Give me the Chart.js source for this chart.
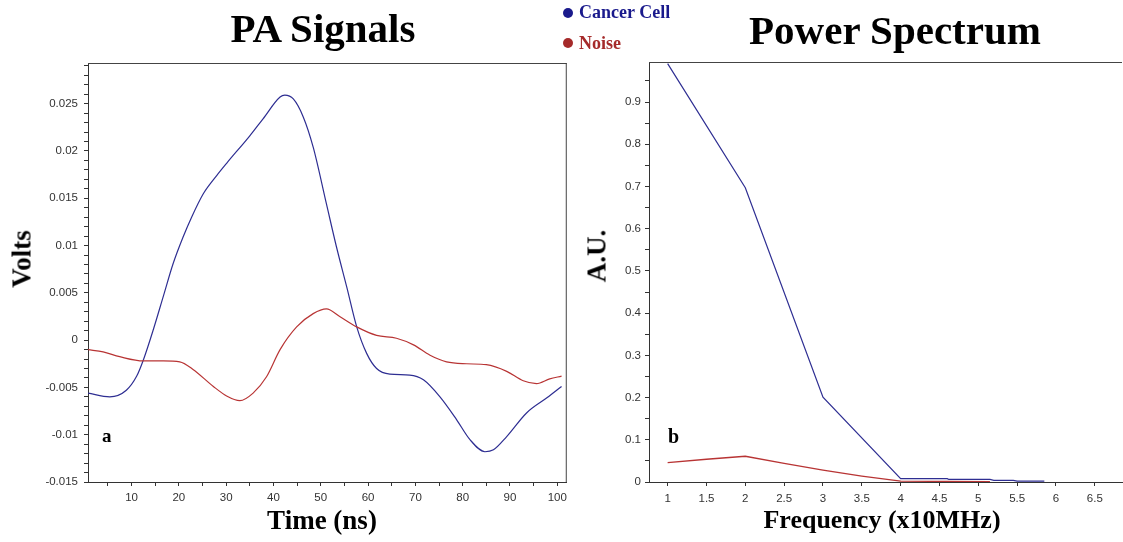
<!DOCTYPE html>
<html>
<head>
<meta charset="utf-8">
<script src="https://cdn.jsdelivr.net/npm/chart.js@4.4.0/dist/chart.umd.min.js"></script>
<style>
    body { margin: 0; width: 1123px; height: 542px; background: #fff; position: relative; overflow: hidden; }
    .wrap { position: absolute; top: 0; height: 542px; }
    .txt { position: absolute; font-family: 'Liberation Serif', 'Times New Roman', serif; font-weight: bold; line-height: 1; white-space: nowrap; color: #000; }
    .dot { position: absolute; width: 10px; height: 10px; border-radius: 50%; }
</style>
</head>
<body>
<div class="wrap" style="left:0;width:572px"><canvas id="paChart"></canvas></div>
<div class="wrap" style="left:575px;width:548px"><canvas id="specChart"></canvas></div>

<div class="txt" style="left:323px;top:8px;font-size:41px;transform:translateX(-50%)">PA Signals</div>
<div class="txt" style="left:895px;top:10px;font-size:41px;transform:translateX(-50%)">Power Spectrum</div>

<div class="dot" style="left:563px;top:8px;background:#1a1a8c"></div>
<div class="txt" style="left:579px;top:3px;font-size:18px;color:#1a1a8c">Cancer Cell</div>
<div class="dot" style="left:563px;top:38px;background:#a52a2a"></div>
<div class="txt" style="left:579px;top:34px;font-size:18px;color:#a52a2a">Noise</div>

<div class="txt" style="left:22px;top:259px;font-size:27px;transform:translate(-50%,-50%) rotate(-90deg)">Volts</div>
<div class="txt" style="left:597px;top:256px;font-size:27px;transform:translate(-50%,-50%) rotate(-90deg)">A.U.</div>
<div class="txt" style="left:322px;top:507px;font-size:27px;transform:translateX(-50%)">Time (ns)</div>
<div class="txt" style="left:882px;top:507px;font-size:26px;transform:translateX(-50%)">Frequency (x10MHz)</div>

<div class="txt" style="left:102px;top:426px;font-size:19px">a</div>
<div class="txt" style="left:668px;top:426px;font-size:20px">b</div>

<script>
'use strict';

// --- PA signals (panel a) ---
const cancerTime = [0.8, 5.4, 8.9, 11.1, 12.5, 14.6, 16.7, 18.8, 20.9, 22.7, 25.2, 28.0, 30.1, 35.0, 37.8,
    41.4, 42.4, 44.2, 46.3, 48.4, 51.2, 53.3, 55.5, 57.6, 59.7, 61.8, 64.6, 68.8, 71.7, 75.2,
    78.7, 81.5, 84.7, 86.5, 89.3, 93.5, 97.8, 100.9];
const cancerVolts = [-0.0056, -0.0060, -0.0053, -0.0038, -0.0021, 0.0011, 0.0046, 0.0081, 0.0109, 0.0130,
    0.0155, 0.0174, 0.0187, 0.0216, 0.0234, 0.0257, 0.0259, 0.0255, 0.0236, 0.0204,
    0.0144, 0.0099, 0.0056, 0.0014, -0.0014, -0.0030, -0.0036, -0.0037, -0.0042, -0.0060,
    -0.0084, -0.0105, -0.0118, -0.0116, -0.0102, -0.0077, -0.0061, -0.0049];

const noiseTime = [0.8, 4.0, 7.5, 12.5, 16.7, 20.2, 23.0, 27.3, 30.1, 32.9, 35.7, 38.5, 41.4, 44.9, 48.4,
    51.2, 54.0, 57.6, 61.8, 66.0, 69.6, 73.1, 76.6, 80.8, 85.0, 89.3, 92.8, 95.6, 98.4, 100.9];
const noiseVolts = [-0.0010, -0.00125, -0.00175, -0.0022, -0.0022, -0.0023, -0.0031, -0.0049, -0.0059, -0.0064,
    -0.0056, -0.0039, -0.0010, 0.0014, 0.0028, 0.0033, 0.0025, 0.0014, 0.0005, 0.0002,
    -0.0005, -0.0016, -0.0023, -0.0025, -0.0026, -0.0033, -0.0043, -0.0046, -0.0041, -0.0038];

const voltMajorTicks = [-0.015, -0.01, -0.005, 0, 0.005, 0.01, 0.015, 0.02, 0.025];
const timeMajorTicks = [10, 20, 30, 40, 50, 60, 70, 80, 90, 100];

// --- Power spectrum (panel b) ---
const cancerFreq = [1, 2, 3, 4, 4.6, 4.62, 5.15, 5.2, 5.45, 5.5, 5.85];
const cancerPower = [0.991, 0.697, 0.201, 0.008, 0.008, 0.006, 0.006, 0.004, 0.004, 0.002, 0.002];

const noiseFreq = [1, 1.5, 2, 2.5, 3, 3.5, 4, 5.15];
const noisePower = [0.046, 0.054, 0.061, 0.044, 0.028, 0.014, 0.002, 0.001];

const auMajorTicks = [0, 0.1, 0.2, 0.3, 0.4, 0.5, 0.6, 0.7, 0.8, 0.9];
const freqTicks = [1, 1.5, 2, 2.5, 3, 3.5, 4, 4.5, 5, 5.5, 6, 6.5];

const BLUE = '#2e2e92';
const RED = '#b83434';
const TICK_FONT = { family: "'Liberation Sans', Arial, sans-serif", size: 11.5 };

const toPoints = (xs, ys) => xs.map((x, i) => ({ x: x, y: ys[i] }));
const isMajor = (v, majors) => majors.some((m) => Math.abs(m - v) < 1e-9);

// top / right border of the plot box
const frame = {
    id: 'frame',
    afterDraw(chart, args, opts) {
        const { ctx, chartArea: a } = chart;
        ctx.save();
        ctx.strokeStyle = '#444';
        ctx.lineWidth = 1;
        ctx.beginPath();
        ctx.moveTo(a.left, a.top + 0.5);
        ctx.lineTo(a.right, a.top + 0.5);
        if (opts.right) {
            ctx.moveTo(a.right - 0.5, a.top);
            ctx.lineTo(a.right - 0.5, a.bottom);
        }
        ctx.stroke();
        ctx.restore();
    },
};

function axis(extra) {
    return Object.assign({
        type: 'linear',
        grid: { drawOnChartArea: false, drawTicks: true, tickLength: 4, tickColor: '#333' },
        border: { display: true, color: '#333', width: 1 },
    }, extra);
}

function lineSet(label, points, color, width, tension) {
    return {
        label: label,
        data: points,
        borderColor: color,
        borderWidth: width,
        pointRadius: 0,
        fill: false,
        tension: tension,
        cubicInterpolationMode: tension ? 'monotone' : 'default',
    };
}

const common = {
    responsive: true,
    maintainAspectRatio: false,
    animation: false,
    events: [],
    plugins: { legend: { display: false }, tooltip: { enabled: false } },
};

new Chart(document.getElementById('paChart').getContext('2d'), {
    type: 'line',
    data: {
        datasets: [
            lineSet('Noise', toPoints(noiseTime, noiseVolts), RED, 1.2, 0.4),
            lineSet('Cancer Cell', toPoints(cancerTime, cancerVolts), BLUE, 1.2, 0.4),
        ],
    },
    options: Object.assign({}, common, {
        layout: { padding: { top: 63, right: 5, bottom: 0, left: 0 } },
        plugins: Object.assign({}, common.plugins, { frame: { right: true } }),
        scales: {
            x: axis({
                min: 0.8, max: 102,
                afterFit: (s) => { s.height = 60; },
                ticks: {
                    stepSize: 5, includeBounds: false, autoSkip: false, maxRotation: 0,
                    padding: 5, color: '#333', font: TICK_FONT,
                    callback: (v) => (isMajor(v, timeMajorTicks) ? String(v) : ''),
                },
            }),
            y: axis({
                min: -0.015, max: 0.0293,
                afterFit: (s) => { s.width = 88; },
                ticks: {
                    stepSize: 0.001, includeBounds: false, autoSkip: false,
                    padding: 6, color: '#333', font: TICK_FONT,
                    callback: (v) => (isMajor(v, voltMajorTicks) ? String(Math.round(v * 1000) / 1000) : ''),
                },
            }),
        },
    }),
    plugins: [frame],
});

new Chart(document.getElementById('specChart').getContext('2d'), {
    type: 'line',
    data: {
        datasets: [
            lineSet('Noise', toPoints(noiseFreq, noisePower), RED, 1.4, 0),
            lineSet('Cancer Cell', toPoints(cancerFreq, cancerPower), BLUE, 1.2, 0),
        ],
    },
    options: Object.assign({}, common, {
        layout: { padding: { top: 62, right: 1, bottom: 0, left: 0 } },
        plugins: Object.assign({}, common.plugins, { frame: { right: false } }),
        scales: {
            x: axis({
                min: 0.76, max: 6.85,
                afterFit: (s) => { s.height = 60; },
                ticks: {
                    stepSize: 0.5, includeBounds: false, autoSkip: false, maxRotation: 0,
                    padding: 6, color: '#333', font: TICK_FONT,
                    callback: (v) => (isMajor(v, freqTicks) ? String(Math.round(v * 10) / 10) : ''),
                },
            }),
            y: axis({
                min: 0, max: 0.995,
                afterFit: (s) => { s.width = 74; },
                ticks: {
                    stepSize: 0.05, includeBounds: false, autoSkip: false,
                    padding: 4, color: '#333', font: TICK_FONT,
                    callback: (v) => (isMajor(v, auMajorTicks) ? String(Math.round(v * 10) / 10) : ''),
                },
            }),
        },
    }),
    plugins: [frame],
});
</script>
</body>
</html>
